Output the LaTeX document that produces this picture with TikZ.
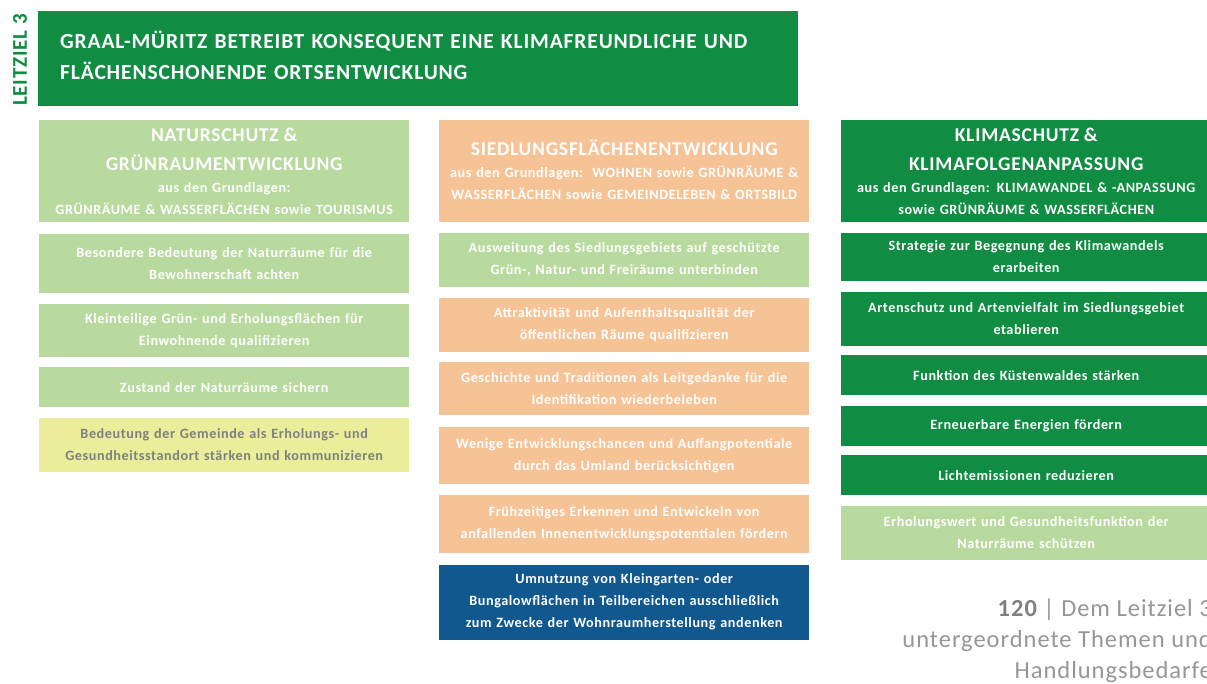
\documentclass[tikz,border=0pt]{standalone}
\usepackage{fontspec}
\setmainfont{Carlito}[LetterSpace=4]
\usepackage{tikz}
\usetikzlibrary{positioning}
\definecolor{leitgreen}{RGB}{16,140,67}
\definecolor{lightgreen}{RGB}{184,218,158}
\definecolor{peach}{RGB}{245,195,150}
\definecolor{paleyellow}{RGB}{234,238,154}
\definecolor{deepblue}{RGB}{17,88,143}
\definecolor{pagegray}{RGB}{150,150,150}
\tikzset{
    themebox/.style={
        rectangle,
        inner sep=0pt,
        minimum width=370pt,
        text width=366pt,
        align=center,
        text=white,
        font=\fontsize{14.2}{22}\selectfont\bfseries
    },
    headbox/.style={themebox, minimum height=102pt},
    natbox/.style={themebox, fill=lightgreen},
    siedbox/.style={themebox, fill=peach},
    klimabox/.style={themebox, fill=leitgreen},
    tourbox/.style={themebox, fill=paleyellow, text=gray},
    wohnbox/.style={themebox, fill=deepblue}
}
\newcommand{\coltitle}[1]{{\fontsize{19.5}{29}\selectfont #1\par}}

\begin{document}
\begin{tikzpicture}[x=1pt, y=-1pt]
    \useasboundingbox (0,0) rectangle (1207,684);
    \clip (0,0) rectangle (1207,684);

    % Leitziel
    \node[rotate=90, text=leitgreen, font=\fontsize{21}{21}\selectfont\bfseries] (lzlabel) at (20,60) {LEITZIEL 3};
    \node[rectangle, fill=leitgreen, anchor=north west, minimum width=760pt, minimum height=95pt,
        inner xsep=22pt, text width=716pt, align=left, text=white,
        font=\fontsize{21.5}{31}\selectfont\bfseries] (leitziel) at (38,11)
        {GRAAL-MÜRITZ BETREIBT KONSEQUENT EINE KLIMAFREUNDLICHE UND\\FLÄCHENSCHONENDE ORTSENTWICKLUNG\par\vspace*{6pt}};

    % Naturschutz
    \node[natbox, headbox, anchor=north west] (nat) at (39,120)
        {\coltitle{NATURSCHUTZ \&\\GRÜNRAUMENTWICKLUNG}aus den Grundlagen:\\GRÜNRÄUME \& WASSERFLÄCHEN sowie TOURISMUS};
    \node[natbox, minimum height=59pt, below=11pt of nat] (nat1)
        {Besondere Bedeutung der Naturräume für die\\Bewohnerschaft achten};
    \node[natbox, minimum height=53pt, below=11pt of nat1] (nat2)
        {Kleinteilige Grün- und Erholungsflächen für\\Einwohnende qualifizieren};
    \node[natbox, minimum height=40pt, below=10pt of nat2] (nat3)
        {Zustand der Naturräume sichern};
    \node[tourbox, minimum height=54pt, below=10pt of nat3] (nat4)
        {Bedeutung der Gemeinde als Erholungs- und\\Gesundheitsstandort stärken und kommunizieren};

    % Siedlungsflaechen
    \node[siedbox, headbox, anchor=north west] (sied) at (439,120)
        {\coltitle{SIEDLUNGSFLÄCHENENTWICKLUNG}aus den Grundlagen:\ \ WOHNEN sowie GRÜNRÄUME \&\\WASSERFLÄCHEN sowie GEMEINDELEBEN \& ORTSBILD\par\vspace*{4pt}};
    \node[natbox, minimum height=54pt, below=10pt of sied] (sied1)
        {Ausweitung des Siedlungsgebiets auf geschützte\\Grün-, Natur- und Freiräume unterbinden};
    \node[siedbox, minimum height=54pt, below=11pt of sied1] (sied2)
        {Attraktivität und Aufenthaltsqualität der\\öffentlichen Räume qualifizieren};
    \node[siedbox, minimum height=53pt, below=10pt of sied2] (sied3)
        {Geschichte und Traditionen als Leitgedanke für die\\Identifikation wiederbeleben};
    \node[siedbox, minimum height=57pt, below=11pt of sied3] (sied4)
        {Wenige Entwicklungschancen und Auffangpotentiale\\durch das Umland berücksichtigen};
    \node[siedbox, minimum height=58pt, below=11pt of sied4] (sied5)
        {Frühzeitiges Erkennen und Entwickeln von\\anfallenden Innenentwicklungspotentialen fördern};
    \node[wohnbox, minimum height=75pt, below=11pt of sied5] (sied6)
        {Umnutzung von Kleingarten- oder\\Bungalowflächen in Teilbereichen ausschließlich\\zum Zwecke der Wohnraumherstellung andenken};

    % Klimaschutz
    \node[klimabox, headbox, anchor=north west] (klima) at (841,120)
        {\coltitle{KLIMASCHUTZ \&\\KLIMAFOLGENANPASSUNG}aus den Grundlagen: KLIMAWANDEL \& -ANPASSUNG\\sowie GRÜNRÄUME \& WASSERFLÄCHEN};
    \node[klimabox, minimum height=48pt, below=10pt of klima] (klima1)
        {Strategie zur Begegnung des Klimawandels\\erarbeiten};
    \node[klimabox, minimum height=54pt, below=11pt of klima1] (klima2)
        {Artenschutz und Artenvielfalt im Siedlungsgebiet\\etablieren};
    \node[klimabox, minimum height=40pt, below=9pt of klima2] (klima3)
        {Funktion des Küstenwaldes stärken};
    \node[klimabox, minimum height=40pt, below=10pt of klima3] (klima4)
        {Erneuerbare Energien fördern};
    \node[klimabox, minimum height=40pt, below=9pt of klima4] (klima5)
        {Lichtemissionen reduzieren};
    \node[natbox, minimum height=54pt, below=10pt of klima5] (klima6)
        {Erholungswert und Gesundheitsfunktion der\\Naturräume schützen};

    % Seitenzahl
    \node[anchor=north east, inner sep=0pt, align=right, text=pagegray,
        font=\fontsize{24.5}{31}\selectfont] (pagenote) at (1212,599)
        {{\bfseries\color{gray}120} | Dem Leitziel 3\\untergeordnete Themen und\\Handlungsbedarfe};
\end{tikzpicture}
\end{document}
